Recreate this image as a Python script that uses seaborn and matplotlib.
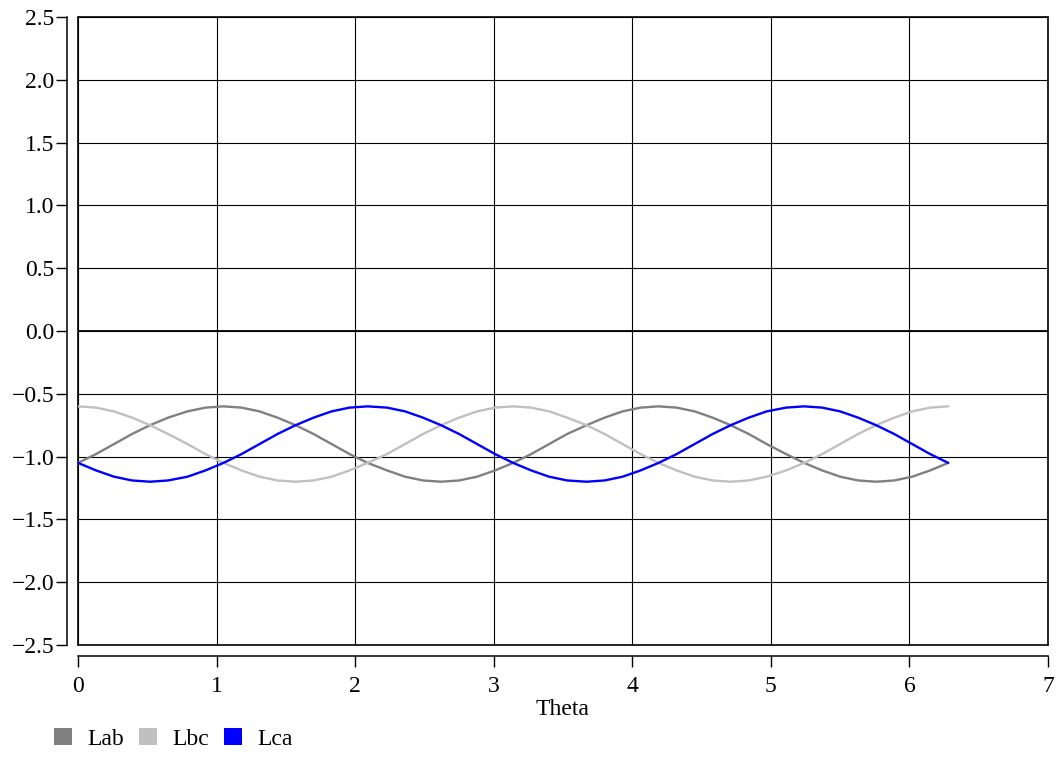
import matplotlib
matplotlib.use("Agg")
import matplotlib.pyplot as plt
import seaborn as sns
import pandas as pd
from matplotlib.patches import Patch

theta = [0.00, 0.13, 0.26, 0.39, 0.52, 0.65, 0.79, 0.92, 1.05, 1.18, 1.31, 1.44,
         1.57, 1.70, 1.83, 1.96, 2.09, 2.23, 2.36, 2.49, 2.62, 2.75, 2.88, 3.01,
         3.14, 3.27, 3.40, 3.53, 3.67, 3.80, 3.93, 4.06, 4.19, 4.32, 4.45, 4.58,
         4.71, 4.84, 4.97, 5.11, 5.24, 5.37, 5.50, 5.63, 5.76, 5.89, 6.02, 6.15, 6.28]

lbc = [-0.60, -0.61, -0.64, -0.69, -0.75, -0.82, -0.90, -0.98, -1.05, -1.11, -1.16, -1.19,
       -1.20, -1.19, -1.16, -1.11, -1.05, -0.98, -0.90, -0.82, -0.75, -0.69, -0.64, -0.61,
       -0.60, -0.61, -0.64, -0.69, -0.75, -0.82, -0.90, -0.98, -1.05, -1.11, -1.16, -1.19,
       -1.20, -1.19, -1.16, -1.11, -1.05, -0.98, -0.90, -0.82, -0.75, -0.69, -0.64, -0.61, -0.60]

lab = [-1.05, -0.98, -0.90, -0.82, -0.75, -0.69, -0.64, -0.61, -0.60, -0.61, -0.64, -0.69,
       -0.75, -0.82, -0.90, -0.98, -1.05, -1.11, -1.16, -1.19, -1.20, -1.19, -1.16, -1.11,
       -1.05, -0.98, -0.90, -0.82, -0.75, -0.69, -0.64, -0.61, -0.60, -0.61, -0.64, -0.69,
       -0.75, -0.82, -0.90, -0.98, -1.05, -1.11, -1.16, -1.19, -1.20, -1.19, -1.16, -1.11, -1.05]

lca = [-1.05, -1.11, -1.16, -1.19, -1.20, -1.19, -1.16, -1.11, -1.05, -0.98, -0.90, -0.82,
       -0.75, -0.69, -0.64, -0.61, -0.60, -0.61, -0.64, -0.69, -0.75, -0.82, -0.90, -0.98,
       -1.05, -1.11, -1.16, -1.19, -1.20, -1.19, -1.16, -1.11, -1.05, -0.98, -0.90, -0.82,
       -0.75, -0.69, -0.64, -0.61, -0.60, -0.61, -0.64, -0.69, -0.75, -0.82, -0.90, -0.98, -1.05]

series_names = ["Lab", "Lbc", "Lca"]
series_colors = ["#808080", "#c0c0c0", "#0000ff"]
x_ticks = [0, 1, 2, 3, 4, 5, 6, 7]
y_ticks = [-2.5, -2.0, -1.5, -1.0, -0.5, 0.0, 0.5, 1.0, 1.5, 2.0, 2.5]

df = pd.concat([
    pd.DataFrame({"Theta": theta, "value": vals, "series": name})
    for name, vals in zip(series_names, [lab, lbc, lca])
], ignore_index=True)

sns.set_style("white")
plt.rcParams["font.family"] = ["Liberation Serif", "DejaVu Serif"]
plt.rcParams["axes.unicode_minus"] = True
plt.rcParams["text.color"] = "black"
plt.rcParams["axes.labelcolor"] = "black"

fig = plt.figure(figsize=(10.61, 7.58), dpi=100)
ax = fig.add_axes([78 / 1061, 1 - 645 / 758, (1048 - 78) / 1061, (645 - 17) / 758])

sns.lineplot(data=df, x="Theta", y="value", hue="series", hue_order=series_names,
             palette=series_colors, linewidth=1.7, ax=ax, legend=False, sort=False,
             estimator=None, zorder=3)

ax.axhline(0, color="black", linewidth=1.3, zorder=2)

ax.set_xlim(0, 7)
ax.set_ylim(-2.5, 2.5)
ax.set_xticks(x_ticks)
ax.set_yticks(y_ticks)
ax.set_xticklabels([str(t) for t in x_ticks])
ax.set_yticklabels([f"{t:.1f}".replace("-", "\u2212") for t in y_ticks])
ax.grid(True, color="black", linewidth=0.8)
ax.set_axisbelow(True)
# frame formed by the outer grid lines
for xv in (0, 7):
    ax.axvline(xv, color="black", linewidth=1.2, clip_on=False, zorder=1)
for yv in (-2.5, 2.5):
    ax.axhline(yv, color="black", linewidth=1.2, clip_on=False, zorder=1)

sns.despine(ax=ax, offset=8)
for s in ["left", "bottom"]:
    ax.spines[s].set_color("black")
    ax.spines[s].set_linewidth(1.1)
ax.tick_params(axis="both", direction="out", length=8, width=1, color="black",
               labelsize=17, pad=1, labelcolor="black", bottom=True, left=True)
ax.tick_params(axis="x", pad=6)
ax.set_xlabel("Theta", fontsize=17, labelpad=2, color="black")
ax.set_ylabel("")

handles = [Patch(facecolor=c, edgecolor="none", label=n) for n, c in zip(series_names, series_colors)]
fig.legend(handles=handles, loc="lower left", bbox_to_anchor=(0.031, -0.017), ncol=3,
           frameon=False, fontsize=17, handlelength=0.75, handleheight=0.75,
           handletextpad=0.65, columnspacing=0.65)

fig.savefig("out.png", dpi=100)
